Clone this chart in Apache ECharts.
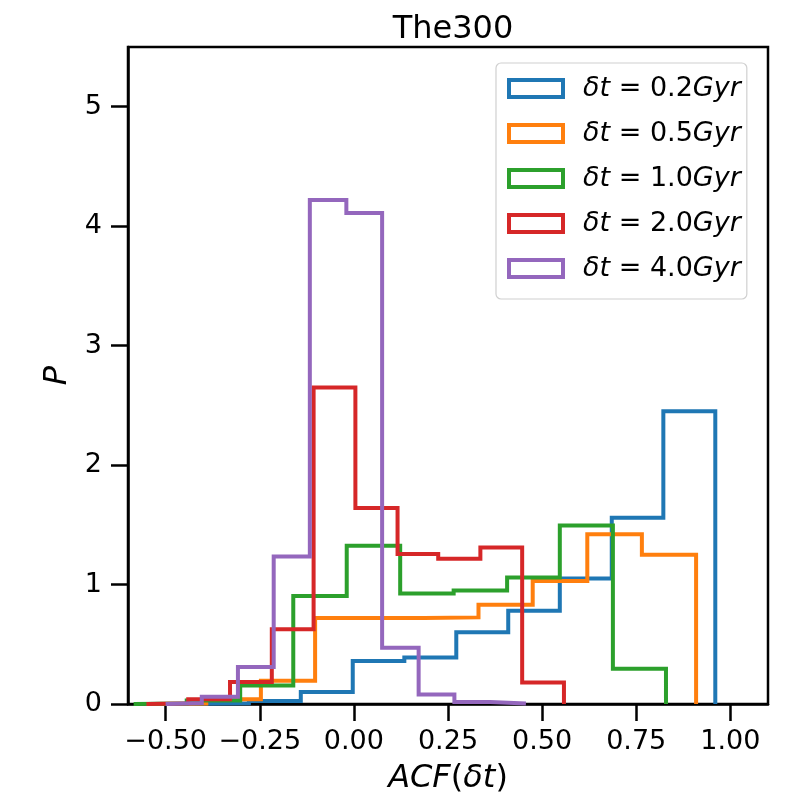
<!DOCTYPE html>
<html>
<head>
<meta charset="utf-8">
<script src="https://cdn.jsdelivr.net/npm/echarts@6/dist/echarts.min.js"></script>
<style>
  html, body { margin: 0; padding: 0; background: #fff; }
  #main { width: 800px; height: 800px; }
</style>
</head>
<body>
<div id="main"></div>
<script>
// bin edges and heights, one pair per delta t
var dtLabels = ["0.2", "0.5", "1.0", "2.0", "4.0"];
var colors = ["#1f77b4", "#ff7f0e", "#2ca02c", "#d62728", "#9467bd"];

var edges02 = [-0.554, -0.416, -0.279, -0.141, -0.003, 0.134, 0.272, 0.410, 0.547, 0.685, 0.822, 0.960];
var vals02 = [0.003, 0.007, 0.025, 0.10, 0.36, 0.39, 0.60, 0.78, 1.05, 1.56, 2.45];

var edges05 = [-0.537, -0.392, -0.247, -0.103, 0.042, 0.186, 0.331, 0.475, 0.620, 0.765, 0.909];
var vals05 = [0.005, 0.04, 0.195, 0.72, 0.72, 0.725, 0.83, 1.03, 1.42, 1.25];

var edges10 = [-0.585, -0.444, -0.302, -0.161, -0.019, 0.123, 0.265, 0.407, 0.547, 0.688, 0.829];
var vals10 = [0.005, 0.03, 0.155, 0.905, 1.325, 0.925, 0.95, 1.06, 1.495, 0.295];

var edges20 = [-0.551, -0.440, -0.329, -0.218, -0.107, 0.004, 0.116, 0.224, 0.336, 0.447, 0.558];
var vals20 = [0.005, 0.04, 0.185, 0.625, 2.65, 1.64, 1.255, 1.215, 1.31, 0.18];

var edges40 = [-0.500, -0.404, -0.308, -0.213, -0.117, -0.020, 0.075, 0.172, 0.267, 0.362, 0.457];
var vals40 = [0.008, 0.06, 0.31, 1.235, 4.22, 4.11, 0.47, 0.08, 0.017, 0.005];

var xTicks = [-0.5, -0.25, 0, 0.25, 0.5, 0.75, 1.0];
var yTicks = [0, 1, 2, 3, 4, 5];

var allEdges = [edges02, edges05, edges10, edges20, edges40];
var allVals = [vals02, vals05, vals10, vals20, vals40];

// outline of a step histogram: up from the baseline, across each bin, back down
function stepPath(edges, vals) {
  var pts = [[edges[0], 0]];
  for (var i = 0; i < vals.length; i++) {
    pts.push([edges[i], vals[i]]);
    pts.push([edges[i + 1], vals[i]]);
  }
  pts.push([edges[edges.length - 1], 0]);
  return pts;
}

var font = "DejaVu Sans";
var series = [];
var legendData = [];
for (var k = 0; k < dtLabels.length; k++) {
  var name = "δt = " + dtLabels[k] + "Gyr";
  series.push({
    name: name,
    type: "line",
    data: stepPath(allEdges[k], allVals[k]),
    symbol: "none",
    animation: false,
    lineStyle: { color: colors[k], width: 4, join: "miter", cap: "butt" },
    itemStyle: { color: colors[k] }
  });
  legendData.push({
    name: name,
    icon: "rect",
    itemStyle: { color: "rgba(0,0,0,0)", borderColor: colors[k], borderWidth: 4 }
  });
}

function fmtTick(v) {
  return v.toFixed(2).replace("-", "\u2212");
}

var chart = echarts.init(document.getElementById("main"));
chart.setOption({
  animation: false,
  title: {
    text: "The300",
    left: 448,
    top: 9,
    textAlign: "center",
    textStyle: { fontFamily: font, fontSize: 32, fontWeight: "normal", color: "#000" }
  },
  grid: {
    left: 128, right: 32, top: 47, bottom: 96,
    show: true, borderColor: "#000", borderWidth: 2.5, backgroundColor: "#fff"
  },
  legend: {
    orient: "vertical",
    left: 496,
    top: 63,
    data: legendData,
    itemWidth: 54,
    itemHeight: 17,
    itemGap: 18,
    padding: [12, 6, 17, 11],
    backgroundColor: "rgba(255,255,255,0.8)",
    borderColor: "#d0d0d0",
    borderWidth: 1.2,
    borderRadius: 5,
    formatter: function(n) {
      var num = n.replace("δt = ", "").replace("Gyr", "");
      return "{s|}{i|δt}{n| = " + num + "}{i|Gyr}";
    },
    textStyle: {
      fontFamily: font,
      fontSize: 27,
      color: "#000",
      lineHeight: 18,
      rich: {
        s: { width: 15, lineHeight: 18 },
        i: { fontFamily: font, fontSize: 27, fontStyle: "italic", lineHeight: 18 },
        n: { fontFamily: font, fontSize: 27, lineHeight: 18 }
      }
    }
  },
  xAxis: {
    type: "value",
    min: -0.6,
    max: 1.1,
    name: "{i|ACF}{n|(}{i|δt}{n|)}",
    nameLocation: "middle",
    nameGap: 59,
    nameTextStyle: {
      rich: {
        i: { fontFamily: font, fontSize: 32, fontStyle: "italic", color: "#000" },
        n: { fontFamily: font, fontSize: 32, color: "#000" }
      }
    },
    axisLine: { show: true, onZero: false, lineStyle: { color: "#000", width: 2.5 } },
    axisTick: {
      show: true, length: 17, inside: false, customValues: xTicks,
      lineStyle: { color: "#000", width: 2.5 }
    },
    axisLabel: {
      customValues: xTicks,
      margin: 24,
      fontFamily: font,
      fontSize: 27,
      color: "#000",
      formatter: fmtTick
    },
    splitLine: { show: false }
  },
  yAxis: {
    type: "value",
    min: 0,
    max: 5.5,
    name: "P",
    nameLocation: "middle",
    nameGap: 52,
    nameTextStyle: { fontFamily: font, fontSize: 32, fontStyle: "italic", color: "#000" },
    axisLine: { show: true, onZero: false, lineStyle: { color: "#000", width: 2.5 } },
    axisTick: {
      show: true, length: 17, inside: false, customValues: yTicks,
      lineStyle: { color: "#000", width: 2.5 }
    },
    axisLabel: {
      customValues: yTicks,
      margin: 26,
      fontFamily: font,
      fontSize: 27,
      color: "#000"
    },
    splitLine: { show: false }
  },
  series: series
});
</script>
</body>
</html>
